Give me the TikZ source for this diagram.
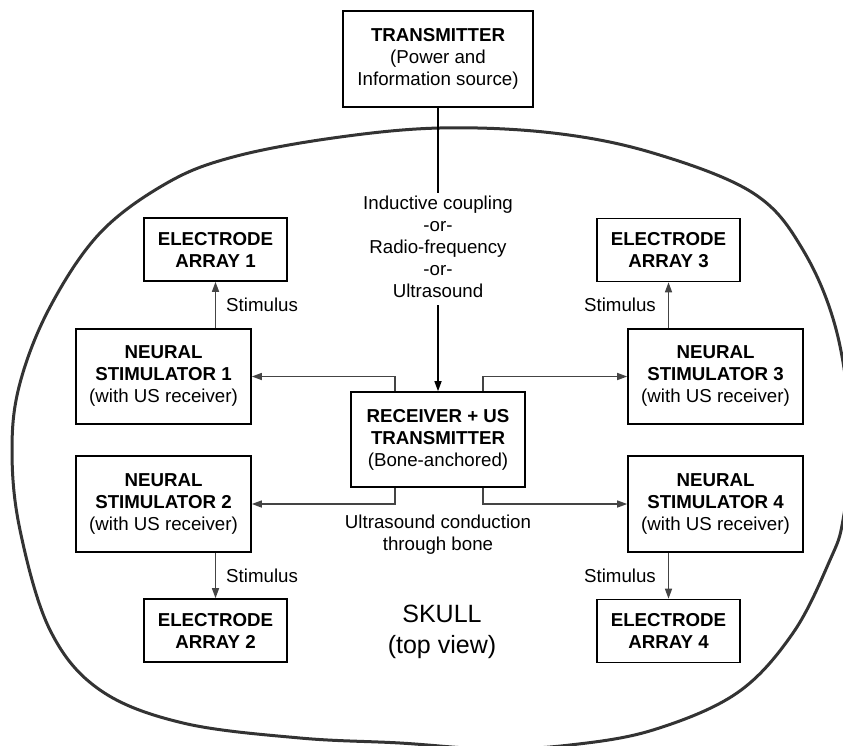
\documentclass[tikz,border=0pt]{standalone}
\usepackage{fontspec}
\setmainfont{Liberation Sans}
\usetikzlibrary{arrows.meta}
\definecolor{skullgray}{HTML}{333333}
\definecolor{conngray}{HTML}{444444}
\begin{document}
\begin{tikzpicture}[x=1pt,y=-1pt,
  box/.style={draw=black, line width=1.6pt, align=center, inner sep=0pt,
    font=\fontsize{18.7}{22}\selectfont},
  lbl/.style={align=center, inner sep=0pt, font=\fontsize{18.7}{22}\selectfont},
  conn/.style={draw=conngray, line width=1.4pt, -{Triangle[length=10pt,width=7pt]}},
  plain/.style={draw=black, line width=1.5pt},
  skull/.style={draw=skullgray, line width=3pt},
]
\useasboundingbox (0,0) rectangle (843,746);
\clip (0,0) rectangle (843,746);

% skull outline
\draw[skull] plot[smooth cycle, tension=0.6] coordinates {
  (440,128) (553,133) (653,153) (753,193) (803,250) (837,333) (851,440)
  (843,520) (830,560) (793,633) (737,693) (653,730) (570,745) (490,749)
  (400,743) (300,738) (183,723) (100,690) (50,630) (20,530) (12,450)
  (20,383) (50,307) (100,233) (167,183) (233,157) (333,138)};

% boxes
\node[box, minimum width=190pt, minimum height=96pt] (tx) at (438,59)
  {\textbf{TRANSMITTER}\\(Power and\\Information source)};
\node[box, minimum width=174pt, minimum height=95pt] (rx) at (438,439.5)
  {\textbf{RECEIVER + US}\\\textbf{TRANSMITTER}\\(Bone-anchored)};
\node[box, minimum width=175pt, minimum height=95pt] (n1) at (163.5,376.5)
  {\textbf{NEURAL}\\\textbf{STIMULATOR 1}\\(with US receiver)};
\node[box, minimum width=175pt, minimum height=96pt] (n2) at (163.5,504)
  {\textbf{NEURAL}\\\textbf{STIMULATOR 2}\\(with US receiver)};
\node[box, minimum width=175pt, minimum height=95pt] (n3) at (715.5,376.5)
  {\textbf{NEURAL}\\\textbf{STIMULATOR 3}\\(with US receiver)};
\node[box, minimum width=175pt, minimum height=96pt] (n4) at (715.5,504)
  {\textbf{NEURAL}\\\textbf{STIMULATOR 4}\\(with US receiver)};
\node[box, minimum width=143pt, minimum height=63pt] (e1) at (215.5,249.5)
  {\textbf{ELECTRODE}\\\textbf{ARRAY 1}};
\node[box, minimum width=143pt, minimum height=63pt] (e2) at (215.5,630.5)
  {\textbf{ELECTRODE}\\\textbf{ARRAY 2}};
\node[box, minimum width=143pt, minimum height=63pt] (e3) at (668.5,250)
  {\textbf{ELECTRODE}\\\textbf{ARRAY 3}};
\node[box, minimum width=143pt, minimum height=63pt] (e4) at (668.5,631)
  {\textbf{ELECTRODE}\\\textbf{ARRAY 4}};

% labels
\node[lbl, inner sep=3pt] (link) at (438,247)
  {Inductive coupling\\-or-\\Radio-frequency\\-or-\\Ultrasound};
\node[lbl] (us) at (438,535) {Ultrasound conduction\\through bone};
\node[lbl, font=\fontsize{25}{31}\selectfont] (skl) at (442,631.5) {SKULL\\(top view)};

% connectors
\draw[plain] (tx.south) -- (link.north);
\draw[conn, draw=black, shorten <=4pt] (link.south) -- (rx.north);
\draw[conn] ([xshift=-43pt]rx.north) |- (n1.east);
\draw[conn] ([xshift=45pt]rx.north) |- (n3.west);
\draw[conn] ([xshift=-43pt]rx.south) |- (n2.east);
\draw[conn] ([xshift=45pt]rx.south) |- (n4.west);

\draw[conn] (e1.south |- n1.north) -- node[lbl, right=10pt] {Stimulus} (e1.south);
\draw[conn] (e3.south |- n3.north) -- node[lbl, left=12pt] {Stimulus} (e3.south);
\draw[conn] (e2.north |- n2.south) -- node[lbl, right=10pt] {Stimulus} (e2.north);
\draw[conn] (e4.north |- n4.south) -- node[lbl, left=12pt] {Stimulus} (e4.north);
\end{tikzpicture}
\end{document}
